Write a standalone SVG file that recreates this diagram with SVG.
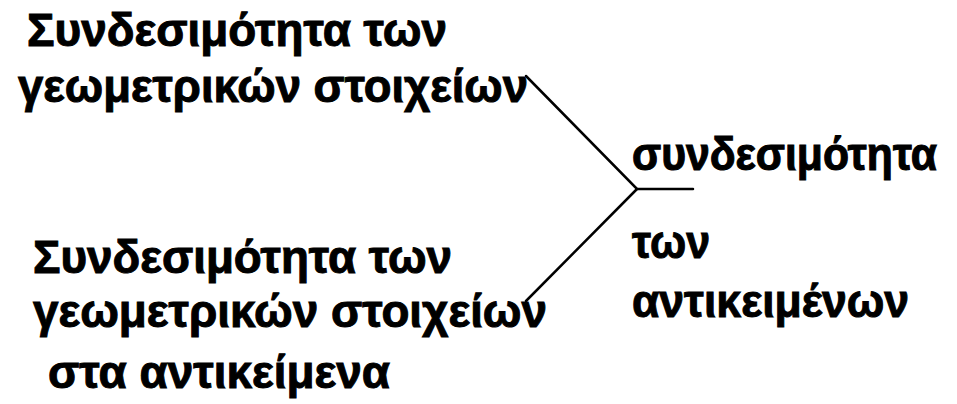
<svg xmlns="http://www.w3.org/2000/svg" width="957" height="404" viewBox="0 0 957 404">
<style>
text{font-family:"Liberation Sans","Noto Sans",sans-serif;font-weight:bold;font-size:46px;fill:#000;stroke:#000;stroke-width:1}
.sm{font-size:42px}
.ln{stroke:#000;stroke-width:2.5;fill:none;stroke-linecap:round}
</style>
<rect width="957" height="404" fill="#fff"/>
<g id="node-top">
<text x="27" y="46" textLength="420" lengthAdjust="spacingAndGlyphs">Συνδεσιμότητα των</text>
<text x="18" y="102" textLength="510" lengthAdjust="spacingAndGlyphs">γεωμετρικών στοιχείων</text>
</g>
<g id="node-bottom">
<text x="33" y="273" textLength="419" lengthAdjust="spacingAndGlyphs">Συνδεσιμότητα των</text>
<text x="33" y="327" textLength="514" lengthAdjust="spacingAndGlyphs">γεωμετρικών στοιχείων</text>
<text x="48" y="388" textLength="342" lengthAdjust="spacingAndGlyphs">στα αντικείμενα</text>
</g>
<g id="node-result">
<text class="sm" transform="translate(632,170) scale(1,1.1)" x="0" y="0" textLength="305" lengthAdjust="spacingAndGlyphs">συνδεσιμότητα</text>
<text x="632" y="258" textLength="78" lengthAdjust="spacingAndGlyphs">των</text>
<text x="632" y="317" textLength="277" lengthAdjust="spacingAndGlyphs">αντικειμένων</text>
</g>
<g id="connectors">
<polyline class="ln" points="526,76 637,189 693,189"/>
<line class="ln" x1="637" y1="189" x2="526" y2="301"/>
</g>
</svg>
